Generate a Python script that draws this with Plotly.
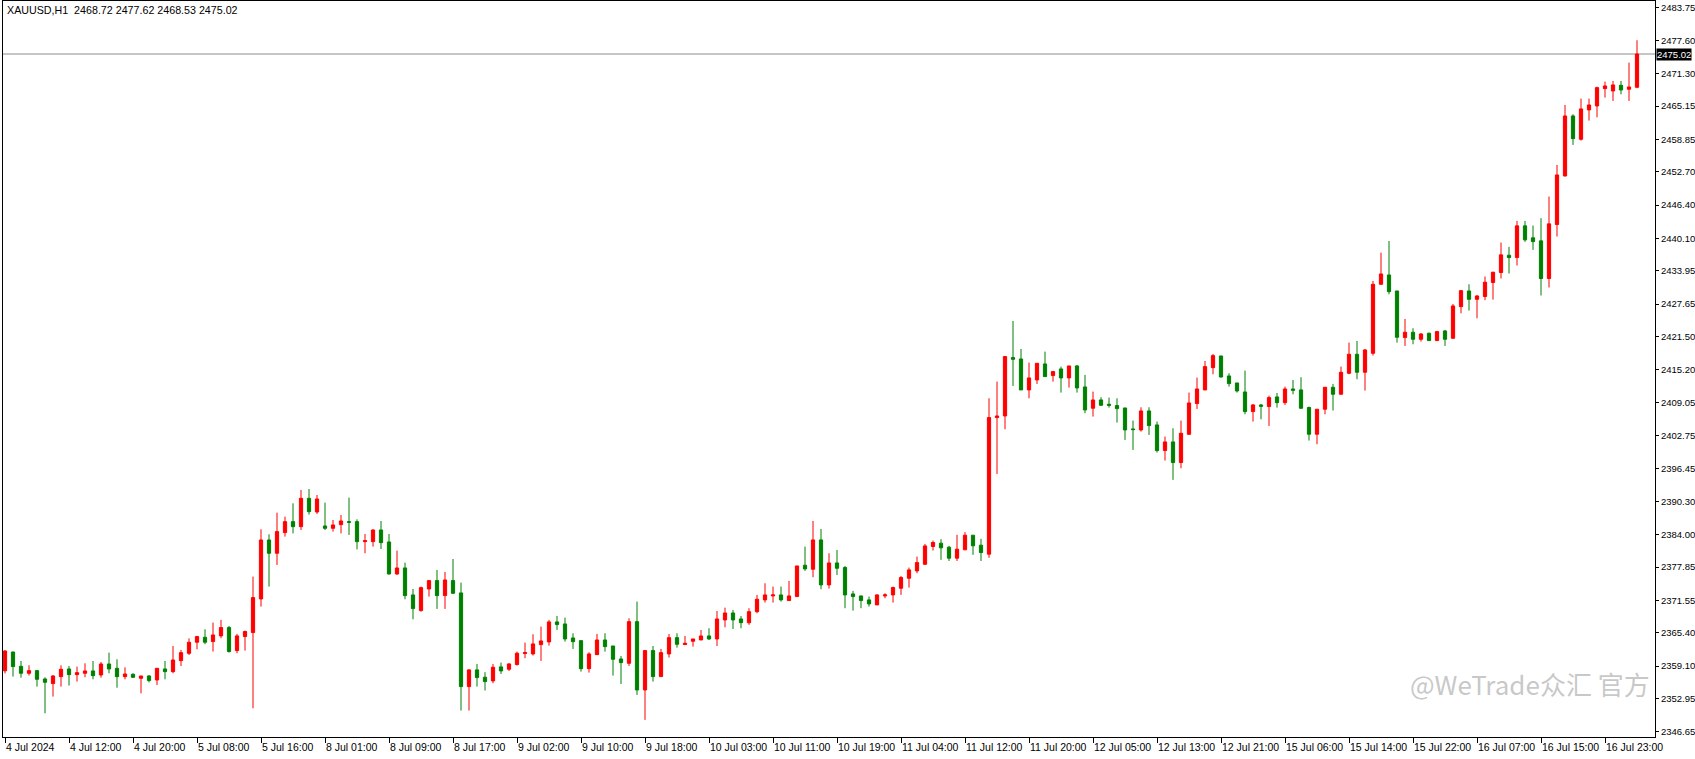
import plotly.graph_objects as go

# ---------------- data (XAUUSD H1) ----------------
opens = [
    2358.20, 2361.76, 2359.05, 2357.73, 2358.23, 2356.65, 2355.77, 2357.09, 2358.55, 2357.47,
    2357.73, 2358.17, 2357.41, 2359.49, 2358.67, 2357.09, 2357.54, 2356.78, 2357.22, 2356.46,
    2358.55, 2358.04, 2360.12, 2361.51, 2363.61, 2364.55, 2363.73, 2364.81, 2366.39, 2362.03,
    2364.68, 2365.44, 2371.81, 2382.98, 2380.46, 2384.37, 2386.45, 2385.50, 2390.87, 2388.28,
    2385.63, 2385.19, 2385.88, 2386.45, 2386.45, 2382.66, 2382.66, 2384.87, 2382.60, 2376.54,
    2377.68, 2372.57, 2369.60, 2373.70, 2375.28, 2372.44, 2375.28, 2372.95, 2355.21, 2358.37,
    2356.98, 2356.29, 2358.94, 2358.49, 2359.38, 2361.46, 2361.40, 2363.16, 2363.67, 2367.46,
    2367.07, 2364.42, 2363.91, 2358.61, 2361.26, 2364.04, 2362.90, 2360.44, 2359.62, 2367.51,
    2354.57, 2362.02, 2357.10, 2361.39, 2364.48, 2363.16, 2363.79, 2364.04, 2364.80, 2364.23,
    2367.83, 2369.15, 2368.02, 2367.30, 2369.40, 2371.63, 2372.38, 2372.57, 2371.50, 2372.26,
    2378.19, 2377.43, 2382.99, 2374.47, 2378.63, 2377.75, 2372.76, 2372.38, 2371.63, 2370.68,
    2372.38, 2372.57, 2373.84, 2375.73, 2377.12, 2378.38, 2381.74, 2382.37, 2381.61, 2379.53,
    2381.11, 2383.88, 2381.99, 2380.29, 2406.16, 2406.47, 2417.52, 2417.26, 2411.40, 2413.29,
    2416.32, 2414.11, 2415.37, 2413.67, 2415.94, 2411.96, 2407.93, 2409.50, 2408.68, 2408.43,
    2407.98, 2404.01, 2403.82, 2407.42, 2404.77, 2399.91, 2401.55, 2397.64, 2403.00, 2408.81,
    2411.39, 2415.62, 2417.83, 2414.04, 2412.72, 2411.01, 2407.29, 2408.55, 2408.24, 2410.07,
    2408.99, 2411.58, 2411.40, 2408.06, 2403.01, 2407.74, 2411.90, 2410.58, 2414.55, 2418.15,
    2414.74, 2418.34, 2431.40, 2433.17, 2430.14, 2421.31, 2422.32, 2420.99, 2422.13, 2420.74,
    2422.57, 2421.18, 2427.17, 2430.14, 2428.56, 2429.09, 2431.74, 2433.63, 2436.91, 2436.47,
    2442.47, 2440.20, 2439.63, 2432.50, 2442.72, 2451.93, 2463.29, 2458.87, 2464.43, 2465.18,
    2468.46, 2468.02, 2469.10, 2468.34, 2468.72,
]
highs = [
    2362.10, 2361.80, 2360.06, 2359.24, 2358.36, 2356.97, 2357.40, 2359.24, 2359.10, 2358.99,
    2359.62, 2360.06, 2359.87, 2361.64, 2360.38, 2358.86, 2357.73, 2357.22, 2357.40, 2358.67,
    2360.06, 2362.90, 2362.14, 2364.35, 2364.81, 2366.07, 2367.33, 2367.84, 2366.70, 2365.19,
    2365.82, 2376.04, 2385.00, 2384.05, 2388.15, 2387.40, 2389.92, 2392.45, 2392.63, 2391.50,
    2390.05, 2386.77, 2387.71, 2390.99, 2386.89, 2384.12, 2385.00, 2386.57, 2384.11, 2380.96,
    2378.69, 2373.70, 2374.14, 2375.41, 2377.30, 2376.92, 2379.38, 2374.90, 2358.49, 2359.50,
    2357.93, 2359.50, 2359.76, 2359.63, 2361.84, 2363.54, 2365.12, 2366.57, 2367.83, 2368.59,
    2368.27, 2365.30, 2363.91, 2361.71, 2365.18, 2365.30, 2362.90, 2361.01, 2368.14, 2371.30,
    2362.15, 2362.90, 2362.34, 2365.18, 2365.30, 2364.80, 2364.23, 2365.93, 2366.25, 2369.53,
    2370.16, 2369.72, 2368.58, 2370.05, 2372.57, 2374.78, 2374.15, 2374.15, 2375.22, 2378.06,
    2381.72, 2386.58, 2385.07, 2380.46, 2381.09, 2378.06, 2373.33, 2372.38, 2372.26, 2372.70,
    2372.89, 2374.15, 2376.17, 2377.75, 2379.83, 2382.23, 2382.87, 2383.13, 2381.87, 2383.95,
    2384.45, 2383.88, 2383.19, 2409.82, 2412.97, 2417.83, 2424.46, 2419.16, 2416.57, 2416.44,
    2418.65, 2414.99, 2415.81, 2415.94, 2416.13, 2414.24, 2411.08, 2410.01, 2409.94, 2409.81,
    2407.98, 2405.59, 2408.11, 2408.11, 2405.40, 2402.56, 2404.13, 2405.59, 2410.89, 2413.73,
    2416.88, 2418.21, 2417.83, 2414.55, 2412.72, 2415.05, 2408.74, 2408.74, 2410.32, 2410.82,
    2412.02, 2413.29, 2413.80, 2408.24, 2407.74, 2411.90, 2412.54, 2415.82, 2420.36, 2420.67,
    2419.16, 2432.03, 2437.40, 2439.60, 2430.14, 2424.84, 2423.07, 2422.13, 2422.25, 2422.57,
    2422.76, 2427.68, 2430.33, 2431.40, 2429.38, 2432.88, 2433.70, 2439.31, 2438.49, 2443.41,
    2443.41, 2442.53, 2443.92, 2448.02, 2454.01, 2465.37, 2463.61, 2466.57, 2466.57, 2468.84,
    2469.79, 2469.92, 2469.92, 2473.39, 2477.62,
]
lows = [
    2357.70, 2357.10, 2356.90, 2357.30, 2355.20, 2350.15, 2353.31, 2355.20, 2355.40, 2356.15,
    2356.97, 2356.59, 2356.90, 2357.73, 2355.00, 2356.59, 2356.84, 2353.94, 2356.00, 2355.50,
    2356.59, 2357.73, 2359.10, 2361.20, 2362.28, 2363.23, 2361.84, 2364.37, 2361.65, 2361.53,
    2362.03, 2351.10, 2370.36, 2374.15, 2378.25, 2383.61, 2384.24, 2384.87, 2387.78, 2387.90,
    2384.87, 2384.56, 2384.24, 2383.93, 2381.21, 2380.46, 2381.72, 2381.27, 2376.42, 2376.35,
    2371.75, 2367.96, 2369.41, 2372.25, 2369.92, 2369.92, 2372.76, 2350.67, 2350.67, 2355.21,
    2354.46, 2355.85, 2357.61, 2358.18, 2359.19, 2360.58, 2361.08, 2360.07, 2362.97, 2365.94,
    2363.72, 2362.34, 2358.05, 2357.86, 2361.20, 2361.83, 2357.29, 2355.71, 2359.12, 2353.63,
    2348.90, 2356.15, 2357.10, 2360.70, 2362.59, 2363.09, 2362.78, 2364.04, 2364.04, 2362.90,
    2366.44, 2366.12, 2366.25, 2366.90, 2369.10, 2371.12, 2371.12, 2371.31, 2371.50, 2372.26,
    2377.12, 2375.92, 2373.65, 2373.77, 2376.36, 2370.05, 2369.60, 2370.05, 2370.37, 2370.68,
    2371.94, 2371.12, 2372.57, 2373.96, 2376.68, 2378.25, 2380.98, 2379.22, 2379.00, 2379.00,
    2381.11, 2380.16, 2379.00, 2379.60, 2395.49, 2403.95, 2412.15, 2411.40, 2409.82, 2412.53,
    2413.92, 2412.97, 2410.89, 2411.84, 2410.89, 2406.98, 2406.35, 2408.37, 2408.05, 2405.21,
    2401.93, 2400.03, 2403.50, 2402.87, 2399.53, 2398.02, 2394.36, 2396.56, 2402.87, 2407.80,
    2411.39, 2414.36, 2413.73, 2412.02, 2410.89, 2406.79, 2405.40, 2405.84, 2404.58, 2408.05,
    2408.55, 2410.57, 2407.80, 2401.81, 2401.11, 2406.79, 2407.49, 2410.58, 2414.37, 2413.42,
    2411.27, 2417.90, 2431.40, 2429.51, 2420.36, 2419.73, 2420.04, 2420.55, 2420.74, 2420.74,
    2419.73, 2421.18, 2425.91, 2426.42, 2424.97, 2428.40, 2428.50, 2432.50, 2433.44, 2434.96,
    2439.44, 2437.92, 2429.28, 2430.79, 2440.45, 2451.81, 2457.80, 2458.62, 2462.41, 2463.04,
    2466.76, 2466.13, 2467.39, 2466.13, 2468.53,
]
closes = [
    2361.95, 2358.99, 2357.73, 2358.23, 2356.59, 2356.02, 2357.22, 2358.48, 2357.47, 2357.85,
    2358.17, 2357.28, 2359.49, 2358.55, 2357.09, 2357.60, 2356.97, 2357.22, 2356.34, 2358.67,
    2358.04, 2360.25, 2361.64, 2363.60, 2364.68, 2363.61, 2364.99, 2366.39, 2361.84, 2364.81,
    2365.63, 2372.06, 2382.98, 2380.46, 2384.56, 2386.45, 2385.50, 2390.87, 2388.34, 2390.74,
    2385.19, 2385.82, 2386.58, 2386.32, 2382.66, 2382.85, 2384.87, 2382.47, 2376.54, 2377.68,
    2372.44, 2369.98, 2373.95, 2375.28, 2372.44, 2375.41, 2372.88, 2355.21, 2358.37, 2356.92,
    2356.16, 2358.87, 2358.18, 2359.50, 2361.52, 2361.65, 2363.29, 2363.86, 2367.46, 2366.95,
    2364.23, 2363.72, 2358.61, 2361.39, 2364.04, 2362.78, 2360.38, 2359.75, 2367.51, 2354.57,
    2362.02, 2357.10, 2361.64, 2364.48, 2363.22, 2363.41, 2364.23, 2364.80, 2364.23, 2368.02,
    2369.15, 2367.83, 2367.32, 2369.40, 2371.75, 2372.57, 2372.57, 2371.63, 2372.38, 2378.06,
    2377.50, 2382.99, 2374.47, 2378.63, 2377.62, 2372.57, 2372.26, 2371.50, 2370.87, 2372.57,
    2372.57, 2373.96, 2375.86, 2377.31, 2378.69, 2381.85, 2382.50, 2381.49, 2379.53, 2381.23,
    2383.88, 2381.87, 2380.60, 2406.16, 2406.47, 2417.71, 2417.20, 2411.40, 2413.67, 2416.44,
    2413.92, 2414.87, 2413.67, 2415.94, 2411.77, 2407.61, 2409.50, 2408.49, 2408.49, 2407.86,
    2403.82, 2403.88, 2407.42, 2404.64, 2399.91, 2401.55, 2397.64, 2403.19, 2408.93, 2411.58,
    2415.81, 2417.89, 2413.85, 2412.59, 2411.20, 2407.29, 2408.55, 2408.30, 2409.94, 2408.99,
    2411.58, 2411.33, 2407.93, 2403.01, 2407.74, 2411.90, 2410.58, 2414.74, 2418.15, 2414.74,
    2418.97, 2431.40, 2433.36, 2430.01, 2421.37, 2422.32, 2420.99, 2422.00, 2420.74, 2422.44,
    2420.99, 2427.30, 2430.20, 2428.56, 2429.19, 2431.80, 2433.70, 2436.98, 2436.47, 2442.47,
    2439.82, 2439.50, 2432.50, 2442.85, 2452.12, 2463.29, 2458.99, 2464.62, 2465.37, 2468.65,
    2468.97, 2469.16, 2468.21, 2468.78, 2475.02,
]

time_labels = [
    "4 Jul 2024", "4 Jul 12:00", "4 Jul 20:00", "5 Jul 08:00", "5 Jul 16:00",
    "8 Jul 01:00", "8 Jul 09:00", "8 Jul 17:00", "9 Jul 02:00", "9 Jul 10:00",
    "9 Jul 18:00", "10 Jul 03:00", "10 Jul 11:00", "10 Jul 19:00", "11 Jul 04:00",
    "11 Jul 12:00", "11 Jul 20:00", "12 Jul 05:00", "12 Jul 13:00", "12 Jul 21:00",
    "15 Jul 06:00", "15 Jul 14:00", "15 Jul 22:00", "16 Jul 07:00", "16 Jul 15:00",
    "16 Jul 23:00",
]
label_step = 8  # bars between time labels

price_ticks = [
    2483.75, 2477.60, 2471.30, 2465.15, 2458.85, 2452.70, 2446.40, 2440.10,
    2433.95, 2427.65, 2421.50, 2415.20, 2409.05, 2402.75, 2396.45, 2390.30,
    2384.00, 2377.85, 2371.55, 2365.40, 2359.10, 2352.95, 2346.65,
]

symbol = "XAUUSD,H1"
last_price = closes[-1]

# ---------------- figure ----------------
x = list(range(len(opens)))
FONT = "Liberation Sans, Arial, sans-serif"
RED = "#FF0000"
GREEN = "#008000"

fig = go.Figure(
    go.Candlestick(
        x=x,
        open=opens,
        high=highs,
        low=lows,
        close=closes,
        increasing=dict(line=dict(color=RED, width=1), fillcolor=RED),
        decreasing=dict(line=dict(color=GREEN, width=1), fillcolor=GREEN),
        whiskerwidth=0,
        hoverinfo="skip",
    )
)

fig.add_shape(
    type="line", xref="paper", x0=0, x1=1, yref="y", y0=last_price, y1=last_price,
    line=dict(color="#8C8C8C", width=1), layer="below",
)

fig.add_annotation(
    xref="paper", yref="y", x=1, y=last_price, xanchor="left", yanchor="middle",
    xshift=1, text=f"{last_price:.2f}", showarrow=False,
    font=dict(family=FONT, size=9.5, color="white"), bgcolor="black", borderpad=0,
)

fig.add_annotation(
    xref="paper", yref="paper", x=0, y=1, xanchor="left", yanchor="top",
    xshift=2, yshift=-1,
    text=f"{symbol}  {opens[-1]:.2f} {highs[-1]:.2f} {lows[-1]:.2f} {closes[-1]:.2f}",
    showarrow=False, font=dict(family=FONT, size=10.7, color="black"),
)

fig.add_annotation(
    xref="paper", yref="paper", x=0.998, y=0.045, xanchor="right", yanchor="bottom",
    text="@WeTrade众汇 官方", showarrow=False,
    font=dict(family="Noto Sans CJK SC, sans-serif", size=26, color="rgba(175,175,175,0.7)"),
)

fig.update_layout(
    width=1695,
    height=759,
    margin=dict(l=3, r=40, t=1, b=22, autoexpand=False),
    paper_bgcolor="white",
    plot_bgcolor="white",
    showlegend=False,
    boxgap=0.42,
    font=dict(family=FONT, size=10, color="black"),
    xaxis=dict(
        type="linear",
        range=[-0.25, len(opens) + 1.25],
        tickmode="array",
        tickvals=[i * label_step for i in range(len(time_labels))],
        ticktext=time_labels,
        tickangle=0,
        ticks="outside",
        ticklen=5,
        tickcolor="black",
        ticklabelposition="outside right",
        tickfont=dict(family=FONT, size=10.5, color="black"),
        showline=True,
        mirror=True,
        linecolor="black",
        linewidth=1,
        showgrid=False,
        zeroline=False,
        automargin=False,
        rangeslider=dict(visible=False),
        fixedrange=True,
    ),
    yaxis=dict(
        side="right",
        range=[2345.66, 2485.06],
        tickmode="array",
        tickvals=price_ticks,
        ticktext=[f"{v:.2f}" for v in price_ticks],
        ticks="outside",
        ticklen=3,
        tickcolor="black",
        tickfont=dict(family=FONT, size=9.5, color="black"),
        showline=True,
        mirror=True,
        linecolor="black",
        linewidth=1,
        showgrid=False,
        zeroline=False,
        automargin=False,
        fixedrange=True,
    ),
)

fig.write_html(
    "out.html",
    config={"displayModeBar": False},
    post_script="document.body.style.margin='0';document.body.style.overflow='hidden';",
)
